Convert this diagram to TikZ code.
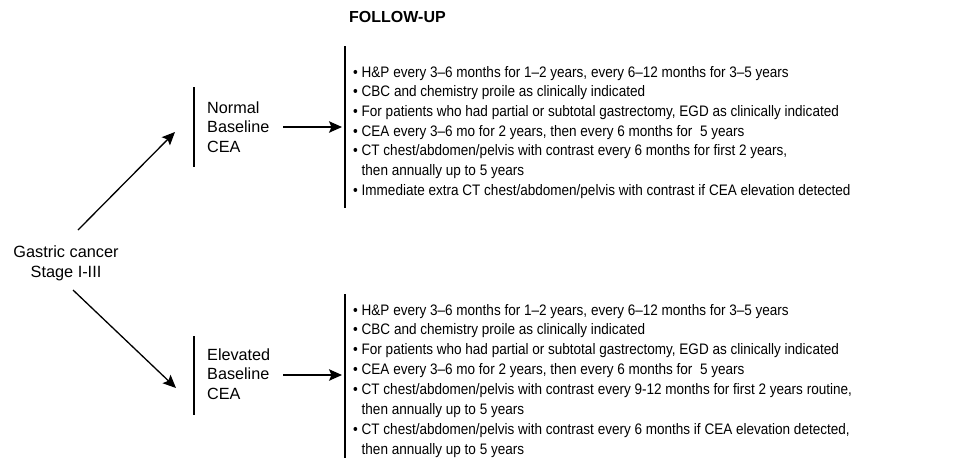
\documentclass[tikz,border=0pt]{standalone}
\usepackage{fontspec}
\setmainfont{Liberation Sans}
\newfontfamily\narrowsans[FakeStretch=0.89]{Liberation Sans}
\usetikzlibrary{arrows.meta}
\begin{document}
\begin{tikzpicture}[x=1pt,y=-1pt,
  txt/.style={inner sep=0pt,anchor=base west,font=\narrowsans\fontsize{15.2}{17}\selectfont},
  lbl/.style={inner sep=0pt,anchor=base west,font=\fontsize{16.2}{19}\selectfont},
  ctxt/.style={inner sep=0pt,anchor=base,font=\fontsize{16.3}{19}\selectfont},
  conn/.style={line width=1.3pt,-{Stealth[length=13pt,width=11.5pt,inset=2.5pt]}},
  bar/.style={line width=1.3pt}]
\fill[white] (0,0) rectangle (966,458);
\useasboundingbox (0,0) rectangle (966,458);
% title
\node[inner sep=0pt,anchor=base west,font=\bfseries\fontsize{16}{19}\selectfont] (fu) at (349,22.5) {FOLLOW-UP};
% root
\node[ctxt] (g1) at (66,257.5) {Gastric cancer};
\node[ctxt] (g2) at (66,277.5) {Stage I-III};
% upper branch labels
\node[lbl] (n1) at (207,113) {Normal};
\node[lbl] (n2) at (207,132.5) {Baseline};
\node[lbl] (n3) at (207,152) {CEA};
% lower branch labels
\node[lbl] (e1) at (207,360) {Elevated};
\node[lbl] (e2) at (207,379.5) {Baseline};
\node[lbl] (e3) at (207,399) {CEA};
% bars
\coordinate (nb1) at (194,87);  \coordinate (nb2) at (194,167);
\coordinate (eb1) at (194,336); \coordinate (eb2) at (194,415);
\coordinate (tb1) at (345,46);  \coordinate (tb2) at (345,208);
\coordinate (lb1) at (345,294); \coordinate (lb2) at (345,458);
\draw[bar] (nb1) -- (nb2);
\draw[bar] (eb1) -- (eb2);
\draw[bar] (tb1) -- (tb2);
\draw[bar] (lb1) -- (lb2);
% connectors
\coordinate (d1s) at (78,230);  \coordinate (d1e) at (175,132);
\coordinate (d2s) at (73,290);  \coordinate (d2e) at (176,388);
\coordinate (h1s) at (283,127); \coordinate (h1e) at (342,127);
\coordinate (h2s) at (283,375); \coordinate (h2e) at (342,375);
\draw[conn] (d1s) -- (d1e);
\draw[conn] (d2s) -- (d2e);
\draw[conn] (h1s) -- (h1e);
\draw[conn] (h2s) -- (h2e);
% upper list
\foreach \t [count=\i] in {
  {• H\&P every 3–6 months for 1–2 years, every 6–12 months for 3–5 years},
  {• CBC and chemistry proile as clinically indicated},
  {• For patients who had partial or subtotal gastrectomy, EGD as clinically indicated},
  {• CEA every 3–6 mo for 2 years, then every 6 months for~~5 years},
  {• CT chest/abdomen/pelvis with contrast every 6 months for first 2 years,},
  {\phantom{•~}then annually up to 5 years},
  {• Immediate extra CT chest/abdomen/pelvis with contrast if CEA elevation detected}}
  \node[txt] (t\i) at ({353},{77+19.7*(\i-1)}) {\t};
% lower list
\foreach \t [count=\i] in {
  {• H\&P every 3–6 months for 1–2 years, every 6–12 months for 3–5 years},
  {• CBC and chemistry proile as clinically indicated},
  {• For patients who had partial or subtotal gastrectomy, EGD as clinically indicated},
  {• CEA every 3–6 mo for 2 years, then every 6 months for~~5 years},
  {• CT chest/abdomen/pelvis with contrast every 9-12 months for first 2 years routine,},
  {\phantom{•~}then annually up to 5 years},
  {• CT chest/abdomen/pelvis with contrast every 6 months if CEA elevation detected,},
  {\phantom{•~}then annually up to 5 years}}
  \node[txt] (b\i) at ({353},{315+19.9*(\i-1)}) {\t};
\end{tikzpicture}
\end{document}
